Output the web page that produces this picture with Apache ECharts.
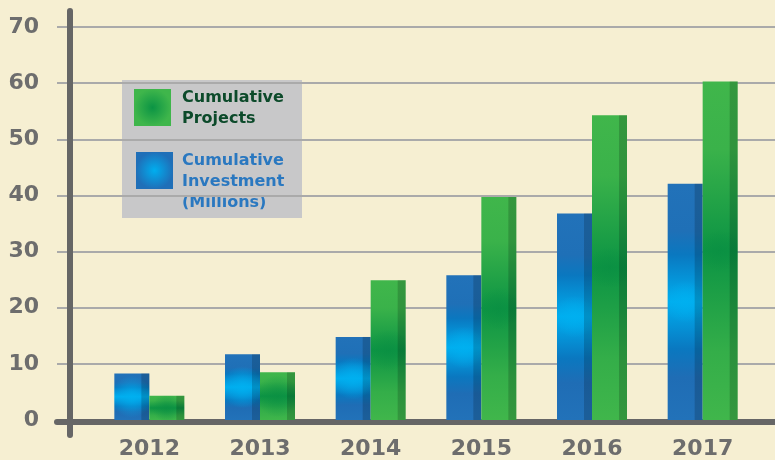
<!DOCTYPE html>
<html>
<head>
<meta charset="utf-8">
<script src="https://cdn.jsdelivr.net/npm/echarts@6/dist/echarts.min.js"></script>
<style>
  html, body { margin: 0; padding: 0; background: #f6efd2; }
  #chart { width: 775px; height: 460px; }
</style>
</head>
<body>
<div id="chart"></div>
<script>
// ============================================
// DATA
// ============================================

const years = ['2012', '2013', '2014', '2015', '2016', '2017'];
const investment = [8.3, 11.7, 14.8, 25.8, 36.8, 42.1];   // Cumulative Investment (Millions)
const projects = [4.3, 8.5, 24.9, 39.7, 54.3, 60.3];      // Cumulative Projects
const yTicks = { min: 0, max: 70, step: 10 };

// ============================================
// STYLE
// ============================================

const FONT = 'DejaVu Sans';
const AXIS_GRAY = '#666666';
const LABEL_GRAY = '#6d6d6d';
const GRID_GRAY = '#aaaaaa';
const BAR_W = 35;
const SIDE_W = 8;

const blueFill = () => new echarts.graphic.LinearGradient(0, 0, 0, 1, [
  { offset: 0, color: '#2272b9' },
  { offset: 0.2, color: '#1f70b7' },
  { offset: 0.3, color: '#0a78c0' },
  { offset: 0.5, color: '#00aeef' },
  { offset: 0.7, color: '#0a78c0' },
  { offset: 0.82, color: '#1f6db5' },
  { offset: 1, color: '#2272b9' }
]);
const blueGlow = () => new echarts.graphic.RadialGradient(0.5, 0.5, 0.6, [
  { offset: 0, color: 'rgba(0,176,240,0.85)' },
  { offset: 1, color: 'rgba(0,176,240,0)' }
]);
const greenFill = () => new echarts.graphic.LinearGradient(0, 0, 0, 1, [
  { offset: 0, color: '#40b64b' },
  { offset: 0.2, color: '#3ab24a' },
  { offset: 0.5, color: '#0c9444' },
  { offset: 0.8, color: '#34ae49' },
  { offset: 1, color: '#40b64b' }
]);
const greenGlow = () => new echarts.graphic.RadialGradient(0.5, 0.5, 0.6, [
  { offset: 0, color: 'rgba(10,143,66,0.7)' },
  { offset: 1, color: 'rgba(10,143,66,0)' }
]);

// bar drawn through the category/value scales; side < 0 = left of band centre
function barRenderer(side, fill, glow) {
  return function (params, api) {
    const top = api.coord([api.value(0), api.value(1)]);
    const base = api.coord([api.value(0), 0]);
    const x = side < 0 ? top[0] - BAR_W : top[0];
    const h = base[1] - top[1];
    return {
      type: 'group',
      children: [
        { type: 'rect', shape: { x: x, y: top[1], width: BAR_W, height: h }, style: { fill: fill() } },
        { type: 'rect', shape: { x: x, y: top[1], width: BAR_W, height: h }, style: { fill: glow() } },
        { type: 'rect', shape: { x: x + BAR_W - SIDE_W, y: top[1], width: SIDE_W, height: h }, style: { fill: 'rgba(0,0,0,0.17)' } }
      ]
    };
  };
}

// ============================================
// CHART
// ============================================

const chart = echarts.init(document.getElementById('chart'));

const option = {
  backgroundColor: '#f6efd2',
  animation: false,
  textStyle: { fontFamily: FONT },
  grid: [
    // background grid lines + horizontal axis
    { left: 57, right: 0, top: 27, bottom: 40 },
    // bars
    { left: 94, right: 17, top: 27, bottom: 40 },
    // long vertical axis line
    { left: 70, right: 0, top: 11, bottom: 25 }
  ],
  xAxis: [
    {
      gridIndex: 0, type: 'value', min: 0, max: 1, offset: 2,
      axisLine: { show: true, onZero: false, lineStyle: { color: AXIS_GRAY, width: 6 } },
      axisTick: { show: false }, axisLabel: { show: false }, splitLine: { show: false }
    },
    {
      gridIndex: 1, type: 'category', data: years,
      axisLine: { show: false }, axisTick: { show: false },
      axisLabel: { color: LABEL_GRAY, fontSize: 22, fontWeight: 'bold', fontFamily: FONT, margin: 18 }
    },
    { gridIndex: 2, type: 'value', show: false }
  ],
  yAxis: [
    {
      gridIndex: 0, type: 'value', min: yTicks.min, max: yTicks.max, interval: yTicks.step,
      axisLine: { show: false }, axisTick: { show: false },
      axisLabel: { color: LABEL_GRAY, fontSize: 22, fontWeight: 'bold', fontFamily: FONT, margin: 18 },
      splitLine: { lineStyle: { color: GRID_GRAY, width: 2 } }
    },
    { gridIndex: 1, type: 'value', min: yTicks.min, max: yTicks.max, show: false },
    {
      gridIndex: 2, type: 'value', min: 0, max: 1,
      axisLine: { show: true, lineStyle: { color: AXIS_GRAY, width: 6 } },
      axisTick: { show: false }, axisLabel: { show: false }, splitLine: { show: false }
    }
  ],
  graphic: [
    // legend panel
    { type: 'rect', z: -10, shape: { x: 122, y: 80, width: 180, height: 138 }, style: { fill: '#c8c8c9' } },
    {
      type: 'rect', z: -9, shape: { x: 134, y: 89, width: 37, height: 37 },
      style: { fill: new echarts.graphic.RadialGradient(0.5, 0.5, 0.5, [
        { offset: 0, color: '#0b9444' }, { offset: 1, color: '#3fb64b' }]) }
    },
    {
      type: 'text', z: -9, x: 182, y: 87,
      style: { text: 'Cumulative\nProjects', fill: '#0c4a2a', font: 'bold 16px "DejaVu Sans"', lineHeight: 21 }
    },
    {
      type: 'rect', z: -9, shape: { x: 136, y: 152, width: 37, height: 37 },
      style: { fill: new echarts.graphic.RadialGradient(0.5, 0.5, 0.5, [
        { offset: 0, color: '#00aeef' }, { offset: 1, color: '#1f6fb8' }]) }
    },
    {
      type: 'text', z: -9, x: 182, y: 150,
      style: { text: 'Cumulative\nInvestment\n(Millions)', fill: '#2a78c0', font: 'bold 16px "DejaVu Sans"', lineHeight: 21 }
    }
  ],
  series: [
    {
      name: 'Cumulative Investment (Millions)',
      type: 'custom',
      xAxisIndex: 1, yAxisIndex: 1,
      renderItem: barRenderer(-1, blueFill, blueGlow),
      encode: { x: 0, y: 1 },
      data: years.map((y, i) => [y, investment[i]])
    },
    {
      name: 'Cumulative Projects',
      type: 'custom',
      xAxisIndex: 1, yAxisIndex: 1,
      renderItem: barRenderer(1, greenFill, greenGlow),
      encode: { x: 0, y: 1 },
      data: years.map((y, i) => [y, projects[i]])
    }
  ]
};

chart.setOption(option);
</script>
</body>
</html>
